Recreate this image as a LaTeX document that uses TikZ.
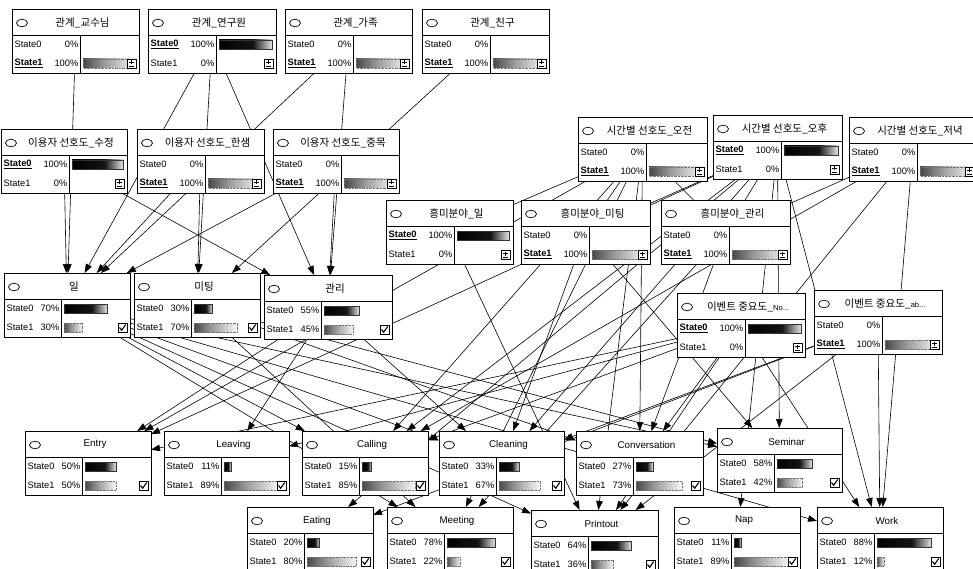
\documentclass[tikz,border=0pt]{standalone}
\usepackage{fontspec}
\setmainfont{Liberation Sans}
\newfontfamily\kr{Noto Sans CJK KR}
\usetikzlibrary{arrows.meta,calc}
\pgfdeclarelayer{edges}
\pgfsetlayers{edges,main}
\pgfdeclarehorizontalshading{darkbar}{100bp}{color(0bp)=(black); color(25bp)=(black); color(57bp)=(black!92); color(75bp)=(black!10); color(100bp)=(black!10)}
\pgfdeclarehorizontalshading{lightbar}{100bp}{color(0bp)=(black!72); color(25bp)=(black!72); color(45bp)=(black!40); color(75bp)=(black!3); color(100bp)=(black!3)}
\tikzset{
  bnbox/.style={draw, fill=white, line width=0.8pt, minimum height=64pt, inner sep=0pt, outer sep=0pt},
  stt/.style={font=\fontsize{9.3}{10}\selectfont, inner sep=0pt},
  link/.style={line width=0.6pt},
  arc/.style={link, -{Triangle[length=9pt,width=6.5pt]}},
  darkout/.style={line width=0.4pt, black!80},
  lightout/.style={line width=0.4pt, black!55, densely dotted},
}
\newcommand\KT[1]{{\kr\fontsize{10.5}{12}\selectfont #1}}
\newcommand\ET[1]{{\fontsize{9.8}{11}\selectfont #1}}
\newcommand\EV[1]{\underline{\textbf{#1}}}
% name, x, y, width, label column, title
\newcommand\bn[6]{%
  \node[bnbox, minimum width=#4pt, anchor=north west] (#1) at (#2,#3) {};
  \begin{scope}[shift={(#1.north west)}]
    \draw[line width=0.6pt] (0,26) -- (#4,26) (#5,26) -- (#5,64);
    \draw[line width=0.7pt, fill=white] (10,14) ellipse [x radius=5.5pt, y radius=3.8pt];
    \node[inner sep=0pt] at ({#4/2+7},13.5) {#6};
  \end{scope}}
% name, row y, label, percent, label column, width, bar percent, shading
\newcommand\bs[8]{%
  \begin{scope}[shift={(#1.north west)}]
    \node[stt, anchor=west] at (2.5,#2) {#3};
    \node[stt, anchor=east] at ({#5-1.5},#2) {#4};
    \ifdim #7pt>0pt
      \shade[shading=#8] (#5+3,#2-4.5) rectangle ({#5+3+#7*(#6-#5-7)/100},#2+4.5);
      \draw[#8out] (#5+3,#2-4.5) rectangle ({#5+3+#7*(#6-#5-7)/100},#2+4.5);
    \fi
  \end{scope}}
\tikzset{darkbarout/.style={darkout}, lightbarout/.style={lightout}}
% check box icon: name, width
\newcommand\chk[2]{%
  \begin{scope}[shift={(#1.north west)}]
    \draw[line width=0.6pt, fill=white] (#2-12,50) rectangle (#2-3,59);
    \draw[line width=1.1pt] (#2-10.5,54.5) -- (#2-8.3,57.2) -- (#2-4.3,51.5);
  \end{scope}}
% evidence icon: name, width
\newcommand\evi[2]{%
  \begin{scope}[shift={(#1.north west)}]
    \draw[line width=0.6pt, fill=white] (#2-12,50) rectangle (#2-3,59);
    \draw[line width=0.6pt] (#2-7.5,51.5) -- (#2-7.5,55.5) (#2-9.8,53.5) -- (#2-5.2,53.5) (#2-10,57) -- (#2-5,57);
  \end{scope}}
% evidence node: name, x, y, w, title, which state (0/1)
\newcommand\enode[6]{%
  \bn{#1}{#2}{#3}{#4}{68}{#5}%
  \ifnum#6=0
    \bs{#1}{35.5}{\EV{State0}}{100\%}{68}{#4}{100}{darkbar}%
    \bs{#1}{54.5}{State1}{0\%}{68}{#4}{0}{lightbar}%
  \else
    \bs{#1}{35.5}{State0}{0\%}{68}{#4}{0}{darkbar}%
    \bs{#1}{54.5}{\EV{State1}}{100\%}{68}{#4}{100}{lightbar}%
  \fi
  \evi{#1}{#4}}
% activity node: name, x, y, w, title, p0, p1
\newcommand\anode[7]{%
  \bn{#1}{#2}{#3}{#4}{57}{#5}%
  \bs{#1}{35.5}{State0}{#6\%}{57}{#4}{#6}{darkbar}%
  \bs{#1}{54.5}{State1}{#7\%}{57}{#4}{#7}{lightbar}%
  \chk{#1}{#4}}

\begin{document}
\begin{tikzpicture}[x=1pt,y=-1pt]
\useasboundingbox (0,0) rectangle (973,569);

% relation nodes
\enode{r1}{12}{9}{127}{\KT{관계\_교수님}}{1}
\enode{r2}{148}{9}{128}{\KT{관계\_연구원}}{0}
\enode{r3}{285}{9}{127}{\KT{관계\_가족}}{1}
\enode{r4}{422}{9}{127}{\KT{관계\_친구}}{1}
% user preference nodes
\enode{u1}{1}{129}{126}{\KT{이용자 선호도\_수정}}{0}
\enode{u2}{137}{129}{127}{\KT{이용자 선호도\_한샘}}{1}
\enode{u3}{273}{129}{126}{\KT{이용자 선호도\_중목}}{1}
% time preference nodes
\enode{t1}{578}{117}{129}{\KT{시간별 선호도\_오전}}{1}
\enode{t2}{713}{115}{129}{\KT{시간별 선호도\_오후}}{0}
\enode{t3}{849}{117}{128}{\KT{시간별 선호도\_저녁}}{1}
% interest nodes
\enode{h1}{386}{200}{127}{\KT{흥미분야\_일}}{0}
\enode{h2}{521}{200}{129}{\KT{흥미분야\_미팅}}{1}
\enode{h3}{661}{200}{129}{\KT{흥미분야\_관리}}{1}
% event importance nodes
\enode{ev1}{677}{293}{128}{\KT{이벤트 중요도\_}{\fontsize{7.5}{9}\selectfont No...}}{0}
\enode{ev2}{814}{290}{128}{\KT{이벤트 중요도\_}{\fontsize{7.5}{9}\selectfont ab...}}{1}
% activity type nodes
\anode{w}{4}{273}{126}{\KT{일}}{70}{30}
\anode{m}{134}{273}{126}{\KT{미팅}}{30}{70}
\anode{k}{264}{275}{128}{\KT{관리}}{55}{45}
% activities
\anode{entry}{25}{431}{126}{\ET{Entry}}{50}{50}
\anode{leaving}{164}{431}{125}{\ET{Leaving}}{11}{89}
\anode{calling}{302}{431}{126}{\ET{Calling}}{15}{85}
\anode{cleaning}{439}{431}{125}{\ET{Cleaning}}{33}{67}
\anode{conv}{576}{431}{127}{\ET{Conversation}}{27}{73}
\anode{seminar}{717}{428}{125}{\ET{Seminar}}{58}{42}
\anode{eating}{247}{507}{126}{\ET{Eating}}{20}{80}
\anode{meeting}{387}{507}{126}{\ET{Meeting}}{78}{22}
\anode{printout}{531}{510}{127}{\ET{Printout}}{64}{36}
\anode{nap}{674}{507}{126}{\ET{Nap}}{11}{89}
\anode{work}{817}{507}{126}{\ET{Work}}{88}{12}

\begin{pgfonlayer}{edges}
  \fill[white] (0,0) rectangle (973,569);
  \foreach \a/\b in {t1/h1, t1/h2, t1/h3, t2/h2, t2/h3, t3/h3}
    \draw[link] (\a) -- (\b);
  \foreach \a/\b in {r1/w, u1/w, r2/w, u2/w, r3/w, u3/w, r2/m, u2/m, r4/m, u1/k, r2/k, r3/k, u3/k,
      w/calling, w/cleaning, w/printout, w/meeting, w/work, w/seminar,
      m/conv, m/seminar, m/meeting,
      k/entry, k/leaving, k/cleaning,
      t1/entry, t1/calling, t1/conv, t1/meeting, t1/printout,
      t2/entry, t2/calling, t2/cleaning, t2/seminar, t2/work, t2/nap, t2/eating,
      t3/calling, t3/work, t3/printout,
      h1/printout, h2/cleaning, h2/seminar, h3/conv, h3/meeting,
      ev1/entry, ev1/leaving, ev1/calling, ev1/conv, ev1/printout, ev1/work,
      ev2/cleaning, ev2/eating, ev2/printout, ev2/work}
    \draw[arc] (\a) -- (\b);
\end{pgfonlayer}
\end{tikzpicture}
\end{document}
